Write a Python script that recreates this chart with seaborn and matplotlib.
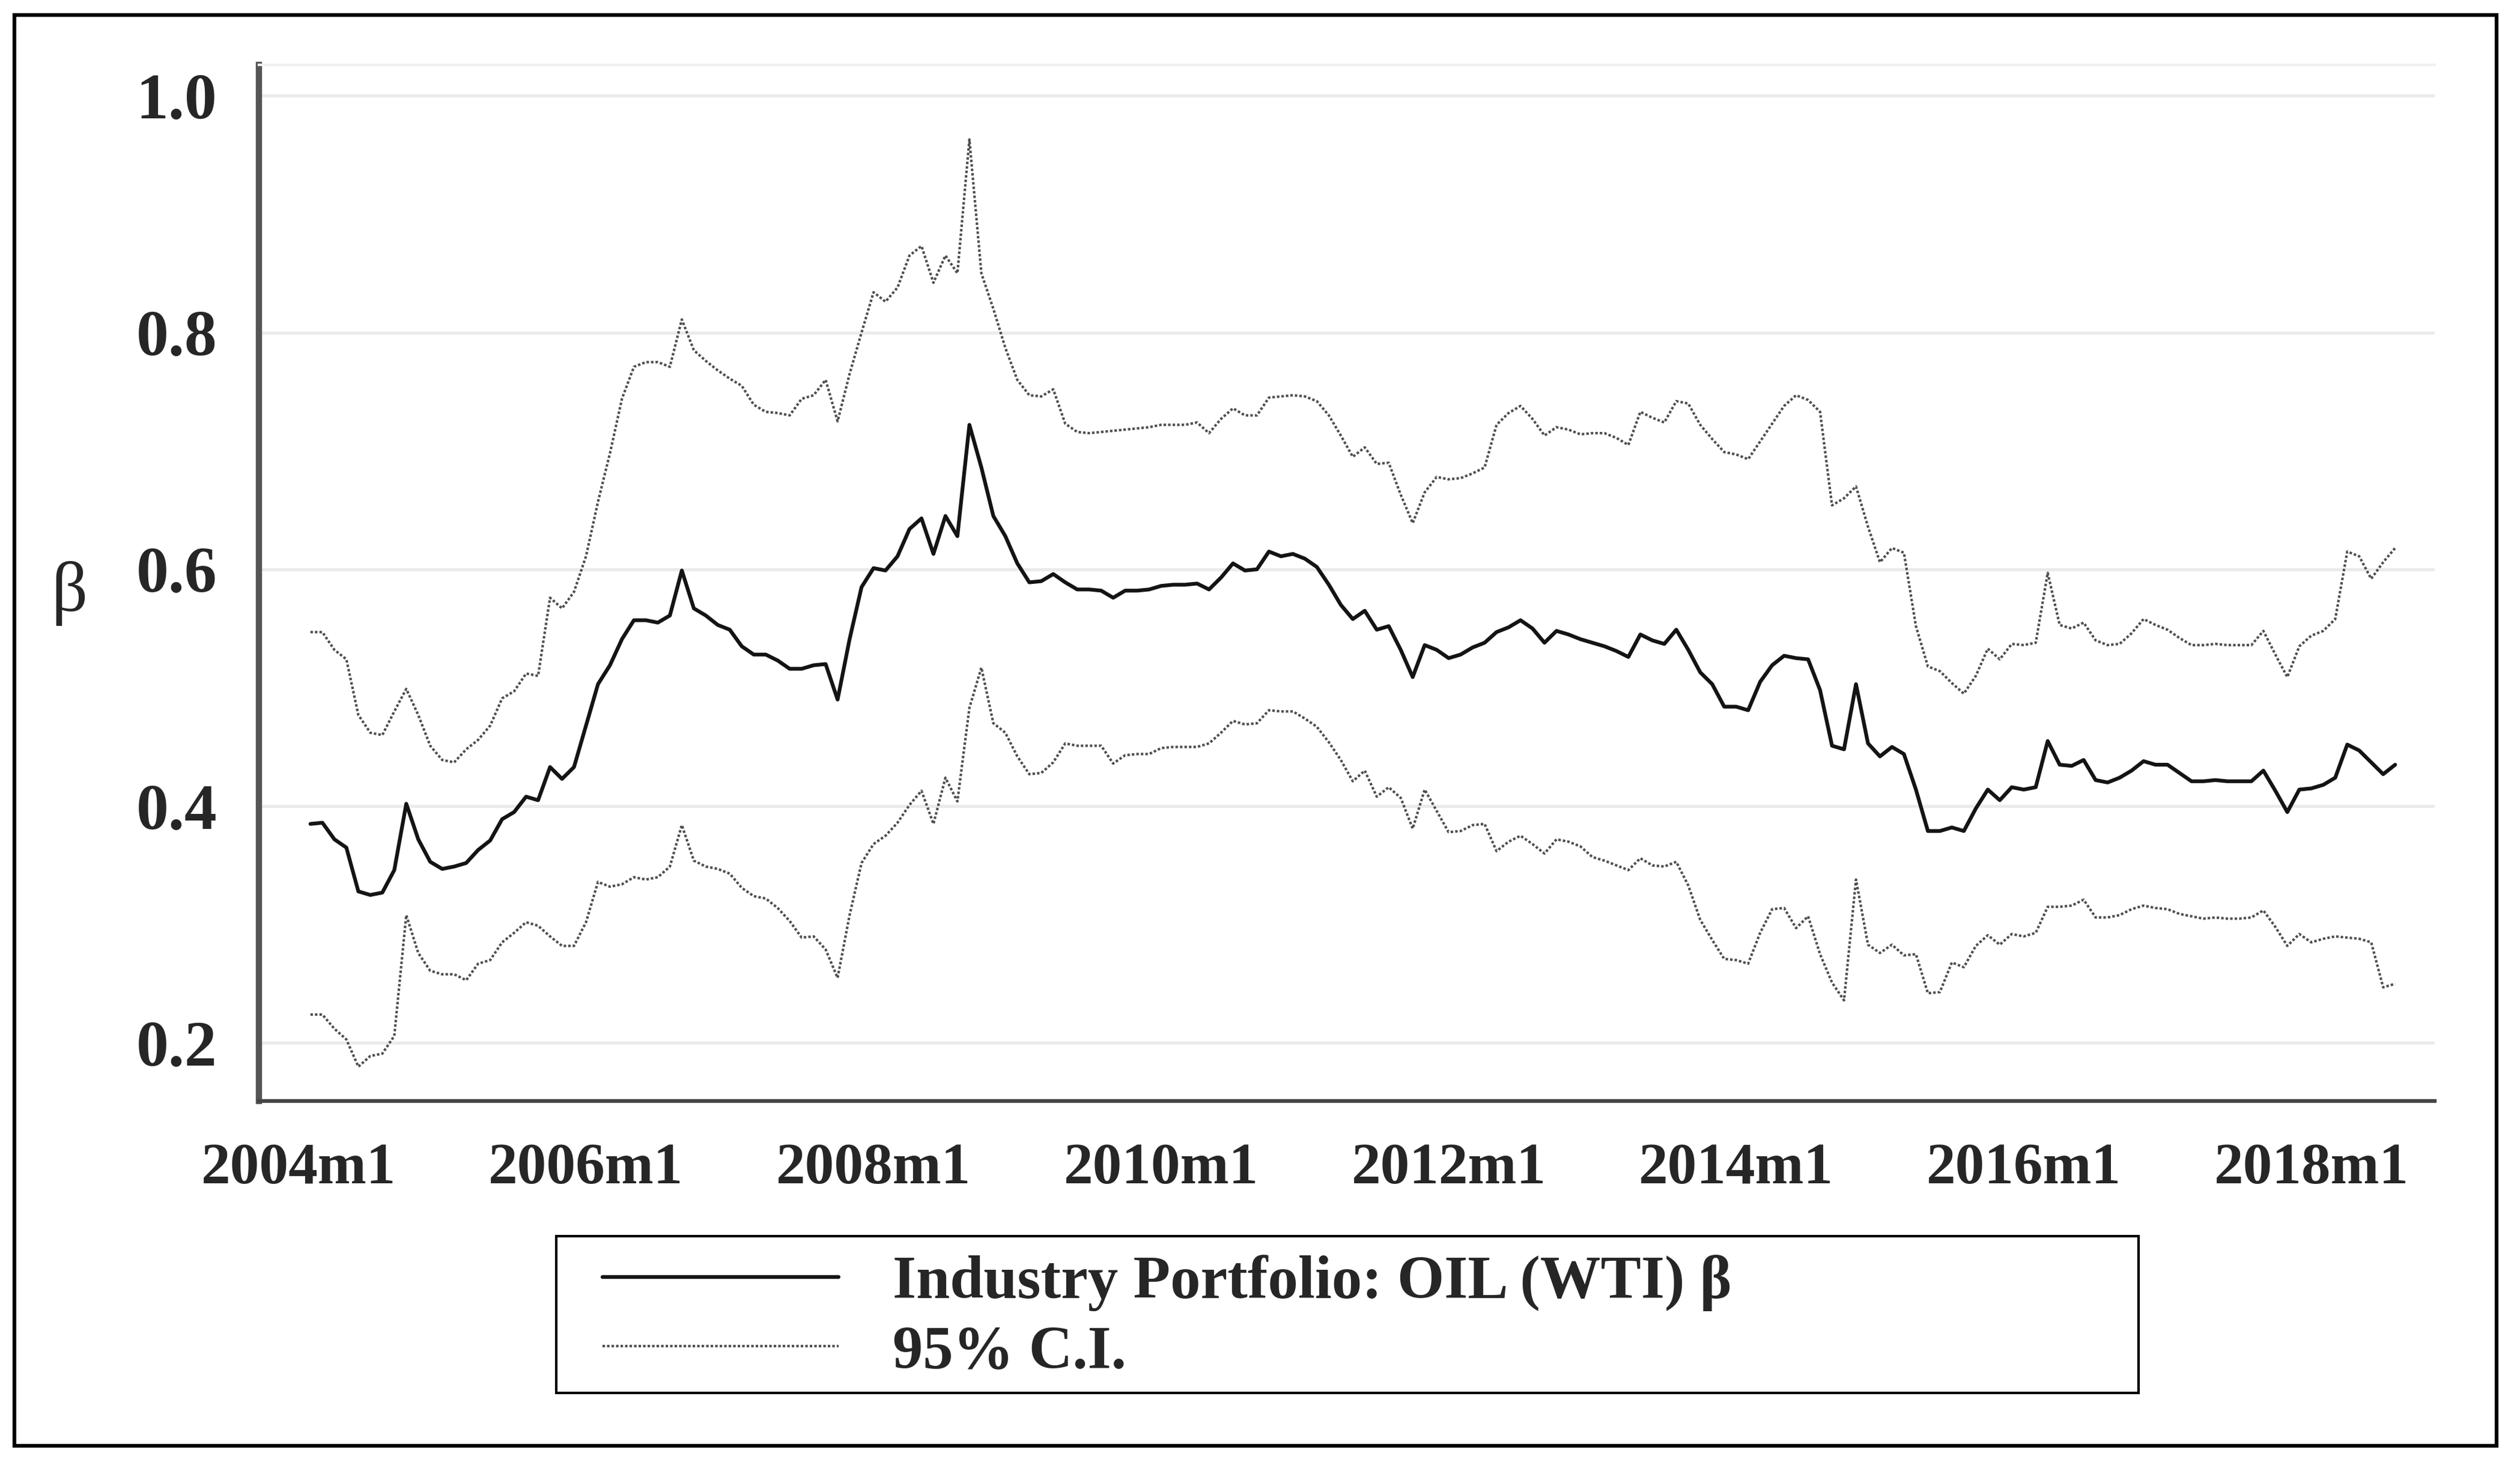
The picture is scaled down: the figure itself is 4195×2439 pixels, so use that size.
import pandas as pd
import matplotlib
matplotlib.use("Agg")
import matplotlib.pyplot as plt
from matplotlib.lines import Line2D
from matplotlib.patches import Rectangle
import seaborn as sns

# monthly rolling estimates, 2004m2 .. 2018m8
start_month = "2004-02"
beta = [
    0.385, 0.386, 0.372, 0.365, 0.328, 0.325, 0.327, 0.346, 0.402, 0.372,
    0.353, 0.347, 0.349, 0.352, 0.363, 0.371, 0.389, 0.395, 0.408, 0.405,
    0.433, 0.423, 0.433, 0.468, 0.503, 0.519, 0.541, 0.557, 0.557, 0.555,
    0.561, 0.599, 0.567, 0.561, 0.553, 0.549, 0.535, 0.528, 0.528, 0.523,
    0.516, 0.516, 0.519, 0.520, 0.490, 0.541, 0.585, 0.601, 0.599, 0.611,
    0.634, 0.643, 0.613, 0.645, 0.628, 0.722, 0.686, 0.645, 0.628, 0.605,
    0.589, 0.590, 0.596, 0.589, 0.583, 0.583, 0.582, 0.576, 0.582, 0.582,
    0.583, 0.586, 0.587, 0.587, 0.588, 0.583, 0.593, 0.605, 0.599, 0.600,
    0.615, 0.611, 0.613, 0.609, 0.602, 0.587, 0.570, 0.558, 0.565, 0.549,
    0.552, 0.532, 0.509, 0.536, 0.532, 0.525, 0.528, 0.534, 0.538, 0.547,
    0.551, 0.557, 0.550, 0.538, 0.548, 0.545, 0.541, 0.538, 0.535, 0.531,
    0.526, 0.545, 0.540, 0.537, 0.549, 0.532, 0.513, 0.503, 0.484, 0.484,
    0.481, 0.505, 0.519, 0.527, 0.525, 0.524, 0.498, 0.451, 0.448, 0.503,
    0.453, 0.442, 0.450, 0.444, 0.414, 0.379, 0.379, 0.382, 0.379, 0.398,
    0.414, 0.405, 0.416, 0.414, 0.416, 0.455, 0.435, 0.434, 0.439, 0.422,
    0.420, 0.424, 0.430, 0.438, 0.435, 0.435, 0.428, 0.421, 0.421, 0.422,
    0.421, 0.421, 0.421, 0.430, 0.413, 0.395, 0.414, 0.415, 0.418, 0.424,
    0.452, 0.447, 0.437, 0.427, 0.435,
]
ci_upper = [
    0.547, 0.547, 0.532, 0.524, 0.477, 0.462, 0.460, 0.480, 0.499, 0.477,
    0.451, 0.439, 0.437, 0.448, 0.456, 0.468, 0.491, 0.497, 0.512, 0.510,
    0.576, 0.567, 0.581, 0.611, 0.657, 0.698, 0.744, 0.771, 0.775, 0.775,
    0.771, 0.811, 0.785, 0.776, 0.768, 0.761, 0.755, 0.739, 0.733, 0.732,
    0.730, 0.744, 0.747, 0.760, 0.725, 0.765, 0.800, 0.834, 0.826, 0.838,
    0.865, 0.873, 0.842, 0.865, 0.850, 0.963, 0.850, 0.820, 0.787, 0.760,
    0.747, 0.746, 0.752, 0.723, 0.716, 0.715, 0.716, 0.717, 0.718, 0.719,
    0.720, 0.722, 0.722, 0.722, 0.724, 0.715, 0.727, 0.736, 0.730, 0.730,
    0.745, 0.746, 0.747, 0.746, 0.742, 0.730, 0.713, 0.695, 0.703, 0.689,
    0.690, 0.663, 0.639, 0.665, 0.678, 0.676, 0.677, 0.681, 0.686, 0.722,
    0.732, 0.738, 0.727, 0.713, 0.720, 0.718, 0.714, 0.715, 0.715, 0.711,
    0.705, 0.733, 0.728, 0.724, 0.742, 0.740, 0.722, 0.710, 0.699, 0.697,
    0.693, 0.708, 0.723, 0.738, 0.747, 0.743, 0.733, 0.654, 0.660, 0.670,
    0.636, 0.606, 0.618, 0.614, 0.552, 0.518, 0.514, 0.504, 0.495, 0.510,
    0.533, 0.524, 0.537, 0.536, 0.538, 0.597, 0.553, 0.550, 0.555, 0.540,
    0.536, 0.537, 0.546, 0.558, 0.553, 0.549, 0.542, 0.536, 0.536, 0.537,
    0.536, 0.536, 0.536, 0.548, 0.528, 0.509, 0.535, 0.544, 0.548, 0.558,
    0.615, 0.611, 0.592, 0.606, 0.618,
]
ci_lower = [
    0.224, 0.224, 0.212, 0.203, 0.180, 0.189, 0.191, 0.206, 0.308, 0.276,
    0.261, 0.258, 0.258, 0.253, 0.267, 0.270, 0.285, 0.293, 0.302, 0.299,
    0.290, 0.282, 0.282, 0.302, 0.336, 0.332, 0.334, 0.340, 0.338, 0.340,
    0.349, 0.384, 0.354, 0.349, 0.347, 0.343, 0.331, 0.324, 0.322, 0.314,
    0.303, 0.289, 0.290, 0.279, 0.255, 0.308, 0.352, 0.368, 0.375, 0.386,
    0.401, 0.413, 0.385, 0.424, 0.404, 0.483, 0.517, 0.470, 0.462, 0.442,
    0.427, 0.428, 0.437, 0.453, 0.451, 0.451, 0.451, 0.436, 0.443, 0.444,
    0.444, 0.449, 0.450, 0.450, 0.450, 0.453, 0.462, 0.472, 0.469, 0.470,
    0.481, 0.480, 0.480, 0.474, 0.467, 0.454, 0.439, 0.421, 0.430, 0.408,
    0.416, 0.407, 0.381, 0.414, 0.396, 0.378, 0.379, 0.384, 0.385, 0.362,
    0.370, 0.375, 0.368, 0.360, 0.372, 0.370, 0.366, 0.357, 0.354, 0.350,
    0.346, 0.356, 0.350, 0.349, 0.353, 0.333, 0.304, 0.287, 0.271, 0.270,
    0.267, 0.293, 0.313, 0.314, 0.297, 0.307, 0.275, 0.251, 0.236, 0.338,
    0.283, 0.276, 0.283, 0.274, 0.275, 0.242, 0.243, 0.268, 0.264, 0.282,
    0.291, 0.283, 0.292, 0.290, 0.293, 0.315, 0.315, 0.316, 0.321, 0.306,
    0.306, 0.308, 0.313, 0.316, 0.314, 0.313, 0.309, 0.307, 0.305, 0.306,
    0.305, 0.305, 0.306, 0.312, 0.298, 0.282, 0.292, 0.285, 0.288, 0.290,
    0.289, 0.288, 0.285, 0.247, 0.250,
]

tick_years = [2004, 2006, 2008, 2010, 2012, 2014, 2016, 2018]
tick_labels = [f"{y}m1" for y in tick_years]
y_ticks = [0.2, 0.4, 0.6, 0.8, 1.0]
legend_labels = ["Industry Portfolio: OIL (WTI) β", "95% C.I."]

periods = pd.period_range(start_month, periods=len(beta), freq="M")
df = pd.DataFrame({
    "t": (periods.year - 2004) * 12 + (periods.month - 1),
    "beta": beta,
    "upper": ci_upper,
    "lower": ci_lower,
})

sns.set_style("white")
plt.rcParams["font.family"] = ["Liberation Serif", "DejaVu Serif"]

W, H, DPI = 4195, 2439, 250
fig = plt.figure(figsize=(W / DPI, H / DPI), dpi=DPI)
ax = fig.add_axes([431 / W, 1 - 1833 / H, (4053 - 431) / W, (1833 - 108) / H])

beta_style = dict(color="#141414", linewidth=1.8)
ci_style = dict(color="#4f4f4f", linewidth=1.2, linestyle=(0, (1, 0.8)))
sns.lineplot(data=df, x="t", y="upper", ax=ax, **ci_style)
sns.lineplot(data=df, x="t", y="lower", ax=ax, **ci_style)
sns.lineplot(data=df, x="t", y="beta", ax=ax, **beta_style)

ax.set_xlim(-3.3, 178.3)
ax.set_ylim(0.151, 1.026)
ax.set_xticks([(y - 2004) * 12 for y in tick_years])
ax.set_xticklabels(tick_labels, fontsize=28, fontweight="bold")
ax.set_yticks(y_ticks)
ax.set_yticklabels([f"{v:.1f}" for v in y_ticks], fontsize=31, fontweight="bold")
ax.tick_params(axis="y", length=13, width=1.5, color="#333333", pad=7)
ax.tick_params(axis="x", length=10, width=2, color="#333333", pad=10)

ax.yaxis.grid(True, color="#ebebeb", linewidth=1.5)
ax.set_axisbelow(True)
ax.spines["right"].set_visible(False)
ax.spines["top"].set_color("#f0f0f0")
ax.spines["top"].set_linewidth(1.2)
ax.spines["left"].set_color("#555555")
ax.spines["left"].set_linewidth(3)
ax.spines["bottom"].set_color("#444444")
ax.spines["bottom"].set_linewidth(1.8)

ax.set_xlabel("")
ax.set_ylabel("β", fontsize=34, rotation=0, va="center", ha="center")
ax.yaxis.set_label_coords(-0.087, 0.49)

# legend frame drawn separately so the entries can sit where the original has them
handles = [Line2D([], [], **beta_style), Line2D([], [], **ci_style)]
fig.legend(
    handles, legend_labels,
    loc="center left", bbox_to_anchor=(1003 / W, 1 - 2194 / H),
    frameon=False, prop={"size": 29, "weight": "bold"},
    handlelength=3.9, handletextpad=0.9, labelspacing=0.22,
    borderpad=0, borderaxespad=0,
)
fig.patches.append(Rectangle((926 / W, 1 - 2319 / H), (3560 - 926) / W, (2319 - 2058) / H,
                             transform=fig.transFigure, fill=False,
                             edgecolor="black", linewidth=1.2))

fig.patches.append(Rectangle((24 / W, 1 - 2407 / H), (4156 - 24) / W, (2407 - 25) / H,
                             transform=fig.transFigure, fill=False,
                             edgecolor="black", linewidth=1.8))

fig.savefig("out.png", dpi=DPI)
